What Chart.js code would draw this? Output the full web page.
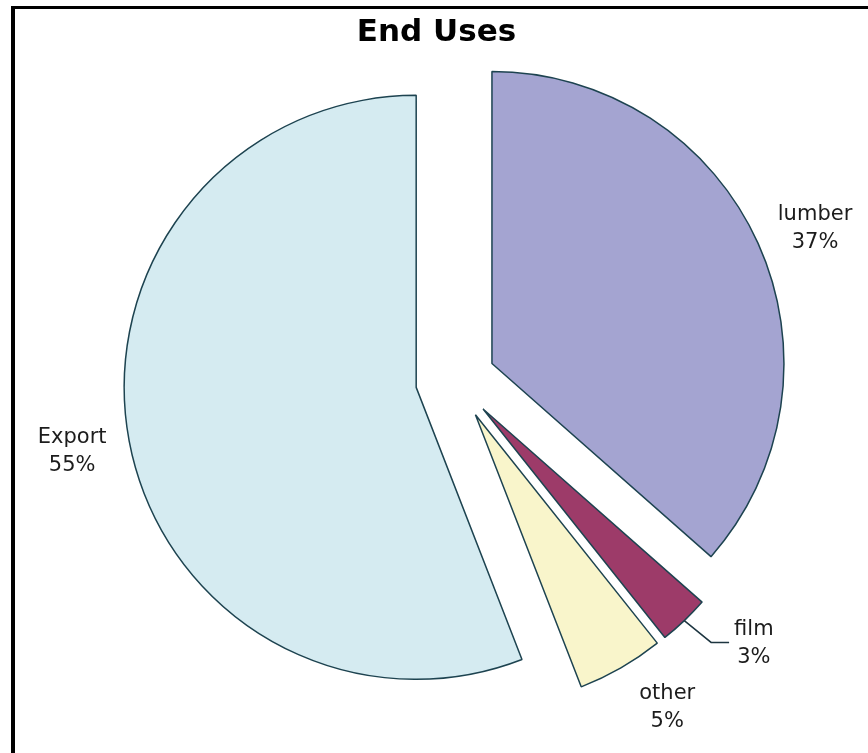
<!DOCTYPE html>
<html>
<head>
<meta charset="utf-8">
<title>End Uses</title>
<script src="https://cdn.jsdelivr.net/npm/chart.js@4.4.1/dist/chart.umd.min.js"></script>
<style>
  html, body { margin: 0; padding: 0; background: #fff; overflow: hidden; }
  #myChart { position: absolute; left: 0; top: 0; }
  #frame { position: absolute; left: 11px; top: 6px; width: 1000px; height: 1000px;
           border-left: 4px solid #000; border-top: 3px solid #000; pointer-events: none; }
</style>
</head>
<body>
<canvas id="myChart" width="868" height="753"></canvas>
<div id="frame"></div>
<script>
const categories = ['lumber', 'film', 'other', 'Export'];
const shares = [36.5, 2.8, 4.8, 55.9];
const pctLabels = ['37%', '3%', '5%', '55%'];
const colors = ['#a4a4d1', '#9d3b69', '#f9f5cb', '#d5ebf1'];

const explode = 40;                    // every slice is pulled out by this much
// small tweaks so the labels sit where the original put them
const labelNudge = [1.5, -5, -3, 0];   // degrees
const labelGap = [58, 66, 58, 58];     // px past the slice edge

// Chart.js' own "offset" also grows the radius, so shift the arcs ourselves
const explodeSlices = {
  id: 'explodeSlices',
  afterDatasetsUpdate(chart) {
    chart.getDatasetMeta(0).data.forEach(arc => {
      if (arc._exploded) return;
      const draw = arc.draw;
      arc.draw = function (c, area) {
        const mid = (this.startAngle + this.endAngle) / 2;
        c.save();
        c.translate(Math.cos(mid) * explode, Math.sin(mid) * explode);
        draw.call(this, c, area);
        c.restore();
      };
      arc._exploded = true;
    });
  }
};

const outsideLabels = {
  id: 'outsideLabels',
  afterDatasetsDraw(chart) {
    const c = chart.ctx;
    const arcs = chart.getDatasetMeta(0).data;
    c.save();

    // title
    c.font = 'bold 31px "DejaVu Sans", Verdana, sans-serif';
    c.fillStyle = '#000';
    c.textAlign = 'center';
    c.textBaseline = 'middle';
    c.fillText('End Uses', 436.5, 32.5);

    c.font = '21px "DejaVu Sans", Verdana, sans-serif';
    arcs.forEach((arc, i) => {
      const p = arc.getProps(['x', 'y', 'startAngle', 'endAngle', 'outerRadius'], true);
      const mid = (p.startAngle + p.endAngle) / 2;
      const a = mid + labelNudge[i] * Math.PI / 180;
      const d = p.outerRadius + explode + labelGap[i];
      const lx = p.x + Math.cos(a) * d;
      const ly = p.y + Math.sin(a) * d;
      c.fillStyle = '#1c1c1c';
      c.fillText(categories[i], lx, ly - 14);
      c.fillText(pctLabels[i], lx, ly + 14);

      // leader line for the thin slice
      if (shares[i] < 4) {
        const tr = p.outerRadius + explode;
        const tx = p.x + Math.cos(mid) * tr;
        const ty = p.y + Math.sin(mid) * tr;
        const left = lx - c.measureText(categories[i]).width / 2;
        const yl = ly - 1;
        c.strokeStyle = '#1d3540';
        c.lineWidth = 1.5;
        c.beginPath();
        c.moveTo(tx, ty);
        c.lineTo(left - 23, yl);
        c.lineTo(left - 5, yl);
        c.stroke();
      }
    });
    c.restore();
  }
};

const ctx = document.getElementById('myChart');

new Chart(ctx, {
  type: 'pie',
  data: {
    labels: categories,
    datasets: [{
      data: shares,
      backgroundColor: colors,
      borderColor: '#1d4350',
      borderWidth: 1.5,
      radius: 292,
      clip: false
    }]
  },
  options: {
    responsive: false,
    devicePixelRatio: 1,
    animation: false,
    layout: { padding: { top: 60, bottom: 53, left: 45, right: 2 } },
    plugins: {
      legend: { display: false },
      tooltip: { enabled: false },
      title: { display: false }
    }
  },
  plugins: [explodeSlices, outsideLabels]
});
</script>
</body>
</html>
